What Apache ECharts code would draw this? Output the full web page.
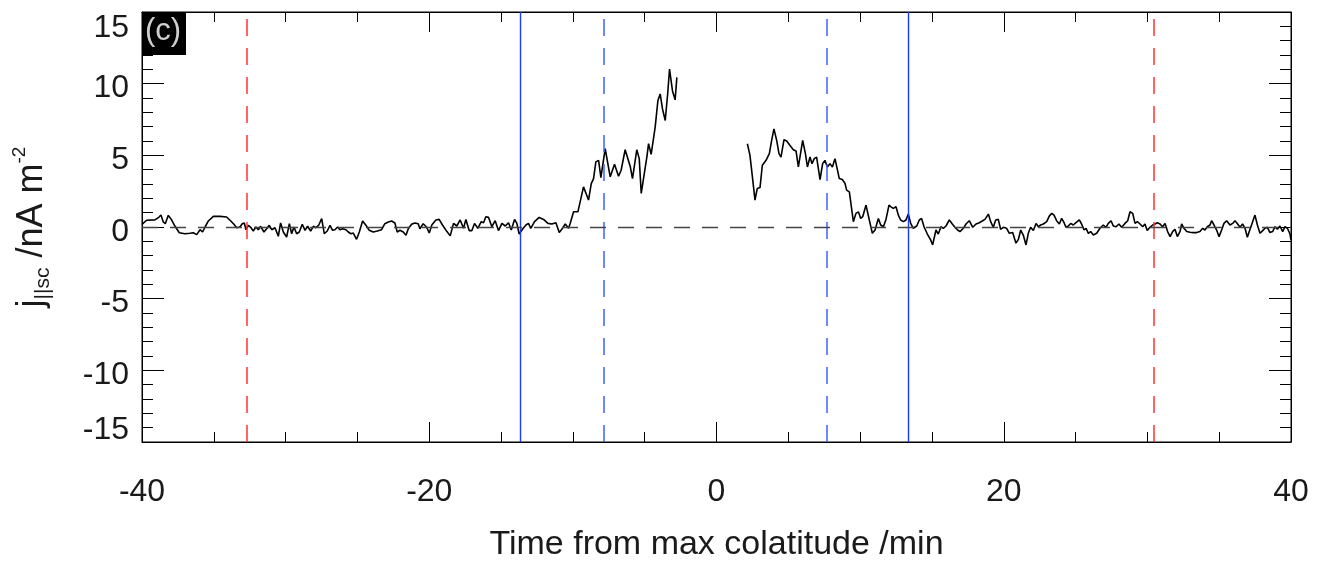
<!DOCTYPE html>
<html>
<head>
<meta charset="utf-8">
<script src="https://cdn.jsdelivr.net/npm/echarts@6/dist/echarts.min.js"></script>
<style>
  html, body { margin: 0; padding: 0; background: #fff; }
  #chart { width: 1319px; height: 563px; }
</style>
</head>
<body>
<div id="chart"></div>
<script>
// time from max colatitude (min) and field-aligned current (nA m^-2), before the data gap
const seg1Time = [
  -40.00,-39.68,-39.10,-38.86,-38.68,-38.52,-38.38,-38.17,-37.94,-37.70,
  -37.40,-37.01,-36.66,-36.43,-36.19,-35.96,-35.78,-35.61,-35.38,-35.03,
  -34.57,-34.11,-33.87,-33.60,-33.41,-33.18,-33.02,-32.88,-32.76,-32.60,
  -32.41,-32.25,-32.07,-31.90,-31.74,-31.51,-31.32,-31.14,-30.97,-30.74,
  -30.51,-30.35,-30.16,-29.93,-29.74,-29.58,-29.42,-29.23,-29.05,-28.84,
  -28.65,-28.47,-28.26,-28.07,-27.89,-27.70,-27.49,-27.31,-27.10,-26.91,
  -26.73,-26.57,-26.38,-26.22,-26.03,-25.80,-25.64,-25.45,-25.29,-25.06,
  -24.87,-24.64,-24.41,-24.18,-23.90,-23.62,-23.32,-23.09,-22.85,-22.62,
  -22.39,-22.23,-22.04,-21.81,-21.62,-21.46,-21.23,-21.00,-20.77,-20.65,
  -20.42,-20.19,-20.00,
  -19.82,-19.54,-19.31,-19.08,-18.77,-18.54,-18.31,-18.08,-17.85,-17.61,
  -17.45,-17.22,-17.03,-16.85,-16.62,-16.38,-16.22,-16.06,-15.87,-15.64,
  -15.41,-15.18,-14.94,-14.71,-14.48,-14.29,-14.06,-13.90,-13.74,-13.51,
  -13.27,-13.09,-12.93,-12.67,-12.35,-12.04,-11.74,-11.46,-11.18,-10.95,
  -10.77,-10.53,-10.30,-10.19,-9.95,-9.65,-9.26,-8.91,-8.72,-8.56,
  -8.40,-8.21,-8.05,-7.75,-7.40,-7.10,-6.82,-6.64,-6.36,-6.01,
  -5.85,-5.55,-5.38,-5.24,-5.15,-4.85,-4.73,-4.55,-4.27,-4.08,
  -3.92,-3.76,-3.57,-3.39,-3.27,-3.06,-2.88,-2.76
];
const seg1Val = [
  0.19,0.47,0.5,0.65,0.84,0.35,0.23,0.81,0.5,0.05,
  -0.4,-0.47,-0.44,-0.4,-0.53,-0.19,-0.35,0,0.42,0.74,
  0.74,0.7,0.47,0.19,-0.05,0,0.23,0.28,-0.19,0.12,
  -0.05,-0.28,0,-0.19,0.05,-0.35,-0.12,0.12,-0.19,-0.05,
  -0.65,0.28,-0.35,-0.7,0.23,-0.47,0,-0.47,-0.35,0.19,
  -0.23,0.05,-0.28,0.05,-0.05,0.12,0.58,-0.47,-0.28,0.12,
  -0.23,-0.19,0,-0.19,-0.12,-0.19,-0.35,-0.47,-0.42,-0.86,
  -0.35,0.42,0.12,-0.23,-0.35,-0.28,-0.19,0.23,0.35,0.42,
  0.28,-0.35,-0.23,-0.35,-0.58,-0.12,0.19,0.28,0.23,-0.12,
  0.23,0,-0.42,
  0.14,0.49,0.53,0.14,-0.32,-0.62,0.25,0.07,0.49,-0.09,
  0.53,-0.25,-0.25,0.25,-0.09,0.37,0.3,0.72,0.67,0.02,
  0.44,-0.25,0.25,0.07,0.3,-0.21,0.53,0.25,-0.49,-0.16,
  0.14,0.25,-0.09,0.37,0.67,0.53,0.25,0.21,0.3,-0.39,
  -0.16,0.21,-0.09,0.25,1.06,1.06,2.8,1.88,3.03,3.38,
  4.54,4.65,3.45,5.46,3.5,4.38,3.54,3.96,5.39,4.24,
  3.38,5.39,4.77,2.34,2.45,4.88,5.81,5.07,6.97,8.82,
  9.28,8.24,7.43,9.4,11.02,9.47,8.87,10.44
];

// after the data gap
const seg2Time = [
  2.15,2.33,2.50,2.68,2.84,3.03,3.19,3.45,3.68,3.84,
  4.00,4.19,4.35,4.49,4.70,4.89,5.12,5.35,5.54,5.70,
  6.00,6.19,6.33,6.51,6.65,6.81,6.97,7.21,7.39,7.55,
  7.72,7.90,8.07,8.25,8.37,8.55,8.76,8.95,9.06,9.25,
  9.53,9.71,9.88,10.04,10.18,10.41,10.64,10.85,11.04,11.27,
  11.43,11.62,11.80,12.01,12.15,12.31,12.50,12.66,12.82,13.01,
  13.19,13.36,13.52,13.70,13.94,14.12,14.28,14.45,14.68,14.91,
  15.05,15.28,15.44,15.63,15.79,15.98,16.21,16.42,16.60,16.79,
  16.95,17.19,17.37,17.60,17.84,18.07,18.30,18.53,18.69,18.93,
  19.09,19.27,19.44,19.62,19.78,19.97,20.20,20.39,
  20.62,20.85,21.02,21.18,21.36,21.55,21.71,21.87,22.06,22.25,
  22.41,22.57,22.76,22.99,23.17,23.34,23.50,23.68,23.87,24.03,
  24.20,24.33,24.50,24.66,24.84,25.03,25.26,25.42,25.59,25.73,
  25.89,26.05,26.24,26.47,26.70,26.93,27.12,27.28,27.47,27.63,
  27.82,28.02,28.21,28.44,28.63,28.79,28.98,29.14,29.30,29.49,
  29.67,29.83,29.99,30.18,30.37,30.53,30.69,30.88,31.06,31.23,
  31.41,31.58,31.76,31.92,32.09,32.27,32.39,32.55,32.74,32.97,
  33.20,33.43,33.66,33.85,34.01,34.17,34.36,34.47,34.64,34.82,
  34.99,35.17,35.33,35.52,35.75,35.94,36.10,36.26,36.45,36.63,
  36.80,36.96,37.13,37.33,37.49,37.66,37.84,38.03,38.19,38.35,
  38.54,38.72,38.89,39.05,39.23,39.42,39.58,39.75,39.93,40.00
];
const seg2Val = [
  5.81,5.0,3.5,1.88,2.69,2.75,4.31,4.65,5.12,6.04,
  6.85,6.04,5.12,4.88,6.09,6.0,5.69,5.39,5.3,4.19,
  6.04,5.12,4.19,4.88,4.42,4.77,4.88,3.31,4.42,4.65,
  4.19,4.42,4.19,4.77,4.7,3.38,3.31,3.03,2.57,2.45,
  0.37,0.95,1.06,0.6,0.72,1.53,0.49,-0.44,-0.21,0.6,
  0.14,0.02,0.53,1.53,1.41,1.3,1.41,0.83,0.49,0.37,
  0.49,0.9,0.25,-0.09,0.07,0.49,0.6,0.02,-0.49,-0.9,
  -1.25,-0.21,-0.49,0.02,-0.09,0.07,0.49,0.21,-0.02,-0.21,
  -0.32,-0.09,0.21,0.44,-0.02,0.21,0.3,0.44,0.53,0.9,
  0.37,-0.02,0.49,0.53,-0.16,-0.02,-0.09,-0.44,
  -0.39,-1.13,-0.86,-0.21,-0.56,-1.25,-0.44,-0.02,-0.25,0.25,
  0.02,0.14,0.21,0.37,0.76,0.95,0.83,0.44,0.21,0.6,
  0.3,-0.02,0.07,0.25,0.14,0.3,0.49,0.21,-0.21,-0.09,
  -0.44,-0.32,-0.56,-0.44,-0.09,0.14,-0.02,0.25,0.44,0.07,
  0.02,0.21,-0.02,0.25,0.44,1.06,0.95,0.25,0.37,0.21,
  0.02,0.21,-0.25,-0.02,0.14,0.21,0.3,0.21,0.02,0.25,
  -0.32,-0.67,-0.32,-0.16,-0.67,-0.32,0.21,-0.09,-0.32,-0.37,
  -0.39,-0.39,-0.32,-0.09,-0.21,0.02,0.14,0.44,0.14,-0.21,
  -0.67,-0.21,0.25,0.44,0.14,0.25,0.44,0.25,-0.02,0.21,
  -0.09,-0.72,-0.21,0.37,0.83,0.14,-0.44,-0.25,-0.09,-0.02,
  -0.39,-0.32,0.02,-0.16,0.07,-0.32,0.02,-0.09,-0.49,-0.9
];

// vertical reference times (min)
const redLines = [-32.69, 30.46];
const blueSolid = [-13.68, 13.33];
const blueDashed = [-7.83, 7.69];

const xTicks = { min: -40, max: 40, step: 20 };
const yTicks = { min: -15, max: 15, step: 5 };

const FONT = '"Liberation Sans", Arial, Helvetica, sans-serif';
const TXT = '#1a1a1a';

const zip = (t, v) => t.map((x, i) => [x, v[i]]);

const chart = echarts.init(document.getElementById('chart'));

const xBase = {
  type: 'value', min: xTicks.min, max: xTicks.max, interval: xTicks.step,
  axisLine: { show: true, onZero: false, lineStyle: { color: '#000', width: 1 } },
  axisTick: { show: true, inside: true, length: 20, lineStyle: { color: '#000' } },
  minorTick: { show: true, splitNumber: 4, length: 10, lineStyle: { color: '#000' } },
  splitLine: { show: false }
};
const yBase = {
  type: 'value', min: yTicks.min, max: yTicks.max, interval: yTicks.step,
  axisLine: { show: true, onZero: false, lineStyle: { color: '#000', width: 1 } },
  axisTick: { show: true, inside: true, length: 22, lineStyle: { color: '#000' } },
  minorTick: { show: true, splitNumber: 5, length: 11, lineStyle: { color: '#000' } },
  splitLine: { show: false }
};

const refLines = [];
redLines.forEach(x => refLines.push({ xAxis: x, lineStyle: { color: '#ff3333', type: [17, 12], width: 1.5 } }));
blueSolid.forEach(x => refLines.push({ xAxis: x, lineStyle: { color: '#1a3cff', type: 'solid', width: 1.4 } }));
blueDashed.forEach(x => refLines.push({ xAxis: x, lineStyle: { color: '#3d60ff', type: [17, 12], width: 1.5 } }));
refLines.push({ yAxis: 0, lineStyle: { color: '#444', type: [16, 12], width: 1.3 } });

const lbl = { fontSize: 32, color: TXT, fontFamily: FONT };

const option = {
  animation: false,
  backgroundColor: '#fff',
  grid: {
    left: 142, right: 28, top: 12, bottom: 121, outerBoundsMode: 'none',
    show: true, borderColor: '#000', borderWidth: 1
  },
  xAxis: [
    Object.assign({}, xBase, {
      position: 'bottom',
      axisLabel: { fontSize: 32, color: TXT, margin: 34, fontFamily: FONT },
      name: 'Time from max colatitude /min',
      nameLocation: 'middle', nameGap: 86,
      nameTextStyle: { fontSize: 34, color: TXT, fontFamily: FONT }
    }),
    Object.assign({}, xBase, { position: 'top', axisLabel: { show: false } })
  ],
  yAxis: [
    Object.assign({}, yBase, {
      position: 'left',
      axisLabel: {
        fontSize: 32, color: TXT, margin: 13, fontFamily: FONT,
        // extreme labels sit inside the frame like the original
        formatter: v => v === yTicks.max ? '{t|' + v + '}' : v === yTicks.min ? '{b|' + v + '}' : '{n|' + v + '}',
        rich: {
          t: Object.assign({ padding: [32, 0, 0, 0] }, lbl),
          b: Object.assign({ padding: [0, 0, 24, 0] }, lbl),
          n: Object.assign({ padding: [10, 0, 0, 0] }, lbl)
        }
      },
      name: '{j|j}{sub|||sc}{u| /nA m}{sup|-2}',
      nameLocation: 'middle', nameGap: 88, nameRotate: 90,
      nameTextStyle: {
        color: TXT, fontFamily: FONT,
        rich: {
          j: { fontSize: 36, fontFamily: FONT, color: TXT, lineHeight: 44, verticalAlign: 'middle' },
          sub: { fontSize: 21, fontFamily: FONT, color: TXT, verticalAlign: 'bottom', lineHeight: 44 },
          u: { fontSize: 36, fontFamily: FONT, color: TXT, lineHeight: 44, verticalAlign: 'middle' },
          sup: { fontSize: 19, fontFamily: FONT, color: TXT, verticalAlign: 'top', lineHeight: 44 }
        }
      }
    }),
    Object.assign({}, yBase, { position: 'right', axisLabel: { show: false } })
  ],
  graphic: [
    { type: 'rect', left: 142, top: 12, shape: { width: 44, height: 43 }, style: { fill: '#000' }, z: 100 },
    { type: 'text', left: 145, top: 16, style: { text: '(c)', fill: '#cfcfcf', font: '31px ' + FONT }, z: 101 }
  ],
  series: [
    {
      name: 'refs', type: 'line', data: [], silent: true,
      markLine: { symbol: ['none', 'none'], silent: true, label: { show: false }, data: refLines }
    },
    {
      name: 'seg1', type: 'line', data: zip(seg1Time, seg1Val), showSymbol: false,
      lineStyle: { color: '#000', width: 1.6 }, z: 3
    },
    {
      name: 'seg2', type: 'line', data: zip(seg2Time, seg2Val), showSymbol: false,
      lineStyle: { color: '#000', width: 1.6 }, z: 3
    }
  ]
};

chart.setOption(option);
</script>
</body>
</html>
